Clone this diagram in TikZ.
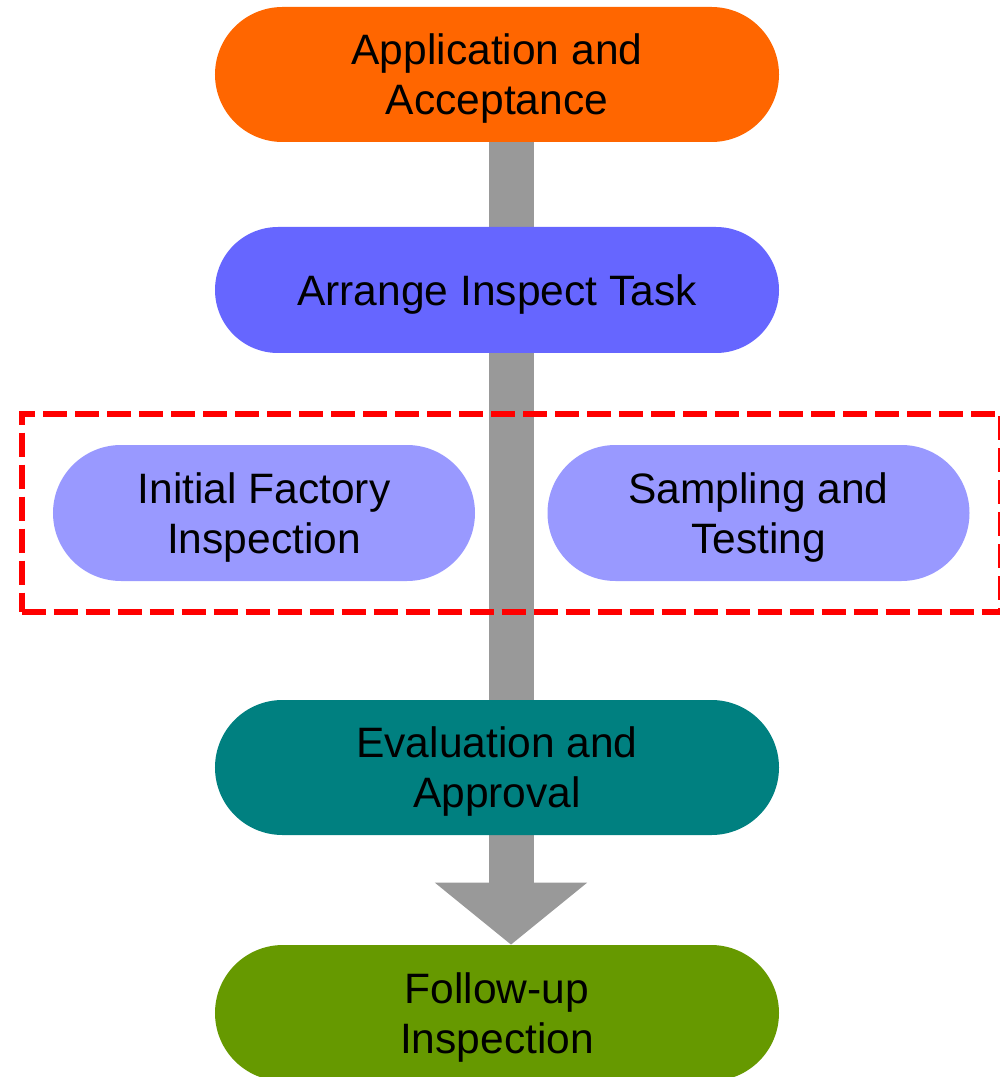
\documentclass[tikz,border=0pt]{standalone}
\usepackage{fontspec}
\setmainfont{Liberation Sans}
\usetikzlibrary {arrows.meta, positioning, fit, shapes.misc, backgrounds}

\definecolor{applyc}{HTML}{FF6600}
\definecolor{taskc}{HTML}{6666FF}
\definecolor{checkc}{HTML}{9999FF}
\definecolor{evalc}{HTML}{008080}
\definecolor{followc}{HTML}{669900}
\definecolor{barc}{HTML}{999999}

\begin{document}
\begin{tikzpicture}[on grid,
      every node/.style={font=\fontsize{24.2}{28.5}\selectfont},
      stage/.style={rounded rectangle,minimum width=11.28cm,minimum height=2.7cm,align=center,inner sep=0pt,text depth=0pt},
      check/.style={stage,fill=checkc,minimum width=8.44cm,minimum height=2.72cm},
      flowbar/.style={draw=barc,line width=0.9cm,-{Triangle[width=2.98cm,length=1.24cm,fill=barc]}},
      every fit/.style={draw=red,line width=0.12cm,dash pattern=on 0.48cm off 0.16cm,inner sep=0.62cm}]
      \useasboundingbox (-9.94,1.49) rectangle (10.04,-20.05);
      \node[stage, fill=applyc]   (apply) {Application and\\Acceptance};
      \node[stage, fill=taskc, minimum height=2.52cm] (task) [below=4.31cm of apply] {Arrange Inspect Task};
      \node[check] (factory) [below left=4.46cm and 4.66cm of task] {Initial Factory\\Inspection};
      \node[check] (sample) [below right=4.46cm and 5.23cm of task] {Sampling and\\Testing};
      \node[stage, fill=evalc] (evaluate) [below=9.55cm of task] {Evaluation and\\Approval};
      \node[stage, fill=followc, minimum height=2.72cm] (follow) [below=4.91cm of evaluate] {Follow-up\\Inspection};
      \begin{scope}[on background layer]
        \draw[flowbar] ([xshift=0.28cm]apply.south) -- ([xshift=0.28cm]follow.north);
      \end{scope}
      \node [fit=(factory) (sample)] {};
    \end{tikzpicture}
\end{document}
